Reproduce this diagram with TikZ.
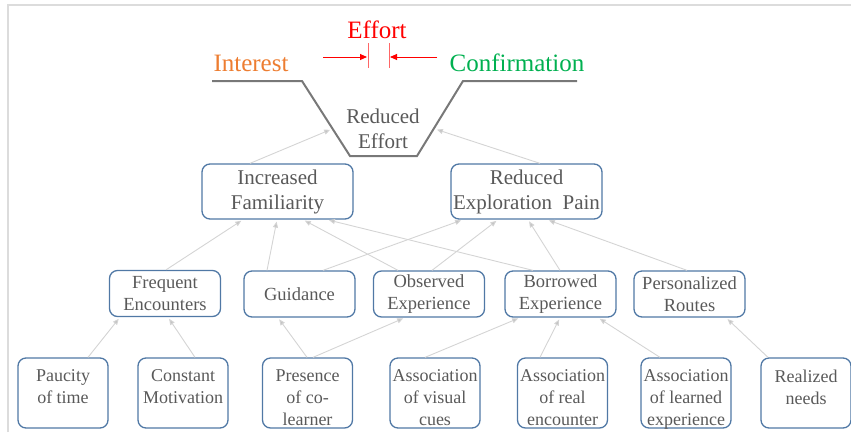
\documentclass[tikz,border=0pt]{standalone}
\usepackage{fontspec}
\newfontfamily\tnr{Liberation Serif}
\usetikzlibrary{arrows.meta}
\definecolor{txt}{RGB}{89,89,89}
\definecolor{bord}{RGB}{80,120,165}
\definecolor{edgec}{RGB}{212,212,212}
\definecolor{tipc}{RGB}{195,195,195}
\definecolor{trap}{RGB}{120,120,120}
\definecolor{intc}{RGB}{237,125,49}
\definecolor{conc}{RGB}{0,176,80}
\definecolor{effc}{RGB}{255,0,0}
\definecolor{framec}{RGB}{220,220,220}
\newcommand\toptext[1]{\parbox[c][70pt][t]{90pt}{\centering\vspace*{12pt}#1}}
\begin{document}
\begin{tikzpicture}[x=1pt,y=-1pt,
  box/.style={draw=bord, line width=1.3pt, rounded corners=8pt, text=txt, inner sep=0pt},
  midbox/.style={box, align=center, minimum width=151pt, minimum height=55pt, font=\tnr\fontsize{21}{25}\selectfont},
  rowbox/.style={box, align=center, minimum width=111pt, minimum height=46pt, font=\tnr\fontsize{18.5}{22}\selectfont},
  lowbox/.style={box, font=\tnr\fontsize{18}{22}\selectfont},
  link/.style={draw=edgec, line width=0.9pt, -{Triangle[length=6pt,width=5pt,fill=tipc]}, shorten >=2pt},
  effarrow/.style={draw=effc, line width=0.9pt, -{Triangle[length=7pt,width=6pt]}},
  bigtext/.style={font=\tnr\fontsize{25}{30}\selectfont}
]
\useasboundingbox (0,0) rectangle (851,432);
% frame
\draw[framec, line width=1.5pt] (8,432) -- (8,5) -- (851,5);

% top labels
\node[bigtext, text=effc] (eff) at (377,30) {Effort};
\node[bigtext, text=intc] (int) at (251,63) {Interest};
\node[bigtext, text=conc] (conf) at (517,63) {Confirmation};
\draw[effarrow] (323,57) -- (367,57);
\draw[effarrow] (437,57) -- (390,57);
\draw[effc!60, line width=0.9pt] (368,43) -- (368,68);
\draw[effc!60, line width=0.9pt] (389,43) -- (389,68);

% trapezoid
\draw[trap, line width=2pt] (212,81) -- (302,81) -- (350,156) -- (417,156) -- (463,81) -- (577,81);
\node[font=\tnr\fontsize{21}{25}\selectfont, text=txt, align=center] (re) at (383,129) {Reduced\\Effort};

% row 2
\node[midbox] (fam) at (277.5,191.5) {Increased\\Familiarity};
\node[midbox] (rep) at (526.5,191.5) {Reduced\\Exploration\ \ Pain};

% row 3
\node[rowbox] (fe) at (165,293.5) {Frequent\\Encounters};
\node[rowbox] (gu) at (299.5,294) {Guidance};
\node[rowbox] (oe) at (429,294) {Observed\\Experience};
\node[rowbox] (be) at (560.5,294) {Borrowed\\Experience};
\node[rowbox] (pr) at (689.5,294) {Personalized\\Routes};

% row 4
\node[lowbox] (pt) at (63,393) {\toptext{Paucity\\of time}};
\node[lowbox] (cm) at (183,393) {\toptext{Constant\\Motivation}};
\node[lowbox] (pc) at (307.5,393) {\toptext{Presence\\of co-\\learner}};
\node[lowbox] (av) at (435,393) {\toptext{Association\\of visual\\cues}};
\node[lowbox] (ar) at (562.5,393) {\toptext{Association\\of real\\encounter}};
\node[lowbox] (al) at (686,393) {\toptext{Association\\of learned\\experience}};
\node[lowbox] (rn) at (806,393) {\toptext{Realized\\needs}};

% edges to Reduced Effort
\draw[link] ([xshift=-27.5pt]fam.north) -- ([xshift=-51pt]re.center);
\draw[link] ([xshift=13.5pt]rep.north) -- ([xshift=52pt]re.center);

% row 3 -> row 2
\draw[link] ([xshift=1pt]fe.north) -- ([xshift=-34.5pt]fam.south);
\draw[link] ([xshift=-32.5pt]gu.north) -- ([xshift=-0.5pt]fam.south);
\draw[link] ([xshift=-31pt]oe.north) -- ([xshift=25.5pt]fam.south);
\draw[link] ([xshift=-27.5pt]be.north) -- ([xshift=49.5pt]fam.south);
\draw[link] ([xshift=23.5pt]gu.north) -- ([xshift=-63.5pt]rep.south);
\draw[link] ([xshift=3pt]oe.north) -- ([xshift=-28.5pt]rep.south);
\draw[link] ([xshift=-0.5pt]be.north) -- ([xshift=1.5pt]rep.south);
\draw[link] ([xshift=-2.5pt]pr.north) -- ([xshift=20.5pt]rep.south);

% row 4 -> row 3
\draw[link] ([xshift=25pt]pt.north) -- ([xshift=-45pt]fe.south);
\draw[link] ([xshift=12pt]cm.north) -- ([xshift=3pt]fe.south);
\draw[link] ([xshift=-0.5pt]pc.north) -- ([xshift=-21.5pt]gu.south);
\draw[link] ([xshift=5.5pt]pc.north) -- ([xshift=-24pt]oe.south);
\draw[link] ([xshift=-10pt]av.north) -- ([xshift=-40.5pt]be.south);
\draw[link] ([xshift=-22.5pt]ar.north) -- ([xshift=-0.5pt]be.south);
\draw[link] ([xshift=-26pt]al.north) -- ([xshift=37.5pt]be.south);
\draw[link] ([xshift=-38pt]rn.north) -- ([xshift=36.5pt]pr.south);
\end{tikzpicture}
\end{document}
